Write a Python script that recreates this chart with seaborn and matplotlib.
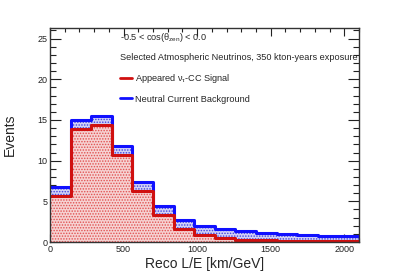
import numpy as np
import matplotlib
matplotlib.use("Agg")
import matplotlib.pyplot as plt
from matplotlib.lines import Line2D
from matplotlib.ticker import MultipleLocator
import seaborn as sns

# bin edges of Reco L/E [km/GeV]
edges = [0, 140, 280, 420, 560, 700, 840, 980, 1120, 1260, 1400, 1540, 1680, 1820, 1960, 2100]
# total (signal + NC background), stacked
total = [6.7, 15.0, 15.5, 11.8, 7.35, 4.4, 2.7, 1.95, 1.6, 1.3, 1.1, 0.95, 0.85, 0.75, 0.75]
# appeared nu_tau CC signal
signal = [5.7, 13.85, 14.35, 10.7, 6.3, 3.35, 1.6, 0.85, 0.5, 0.3, 0.2, 0.15, 0.1, 0.1, 0.1]

centers = [(a + b) / 2 for a, b in zip(edges[:-1], edges[1:])]

sns.set_style("ticks")
plt.rcParams['font.family'] = ['Liberation Sans', 'DejaVu Sans']
plt.rcParams['mathtext.fontset'] = 'custom'
plt.rcParams['mathtext.rm'] = 'Liberation Sans'
plt.rcParams['mathtext.it'] = 'Liberation Sans'
plt.rcParams['hatch.linewidth'] = 0.7

fig = plt.figure(figsize=(3.99, 2.75), dpi=100)
ax = fig.add_axes([0.1253, 0.12, 0.7744, 0.778])

# filled areas with dotted pattern
for vals, face, dots in [(total, "#d2d2f6", "#4040e0"), (signal, "#f6d2d2", "#e05050")]:
    n0 = len(ax.collections)
    sns.histplot(x=centers, weights=vals, bins=edges, element="step", fill=True,
                 color=face, alpha=1, linewidth=0, ax=ax)
    for c in ax.collections[n0:]:
        c.set_facecolor(face)
        c.set_edgecolor(dots)
        c.set_linewidth(0)
        c.set_hatch("......")

# outlines
sns.histplot(x=centers, weights=total, bins=edges, element="step", fill=False,
             color="#1010ff", linewidth=2.2, ax=ax)
sns.histplot(x=centers, weights=signal, bins=edges, element="step", fill=False,
             color="#d01010", linewidth=2.2, ax=ax)

ax.set_xlim(0, 2100)
ax.set_ylim(0, 26.3)
ax.xaxis.set_major_locator(MultipleLocator(500))
ax.xaxis.set_minor_locator(MultipleLocator(100))
ax.yaxis.set_major_locator(MultipleLocator(5))
ax.yaxis.set_minor_locator(MultipleLocator(1))
ax.tick_params(axis="both", which="both", direction="in", top=True, right=True,
               labelsize=6.5, colors="#222222", width=0.8, pad=2)
ax.tick_params(axis="y", which="major", length=8)
ax.tick_params(axis="y", which="minor", length=4)
ax.tick_params(axis="x", which="major", length=6)
ax.tick_params(axis="x", which="minor", length=3)
for s in ax.spines.values():
    s.set_linewidth(1.0)
    s.set_color("#333333")

ax.set_xlabel("Reco L/E [km/GeV]", fontsize=10, labelpad=2)
ax.set_ylabel("Events", fontsize=10, labelpad=15)

ax.text(120 / 399, 1 - 38 / 275, r"-0.5 < cos($\mathrm{\theta_{zen}}$) < 0.0", transform=fig.transFigure,
        fontsize=6.6, va="center", ha="left")
ax.text(120 / 399, 1 - 57 / 275, "Selected Atmospheric Neutrinos, 350 kton-years exposure",
        transform=fig.transFigure, fontsize=6.6, va="center", ha="left")

handles = [Line2D([], [], color="#d01010", lw=2),
           Line2D([], [], color="#1010ff", lw=2)]
labels = [r"Appeared $\mathrm{\nu_{\tau}}$-CC Signal", "Neutral Current Background"]
fig.legend(handles, labels, loc="upper left", bbox_to_anchor=(120 / 399, 1 - 72 / 275),
           frameon=False, fontsize=6.6, handlelength=1.3, handletextpad=0.35,
           labelspacing=1.05, borderaxespad=0, borderpad=0)

fig.savefig("out.png", dpi=100)
